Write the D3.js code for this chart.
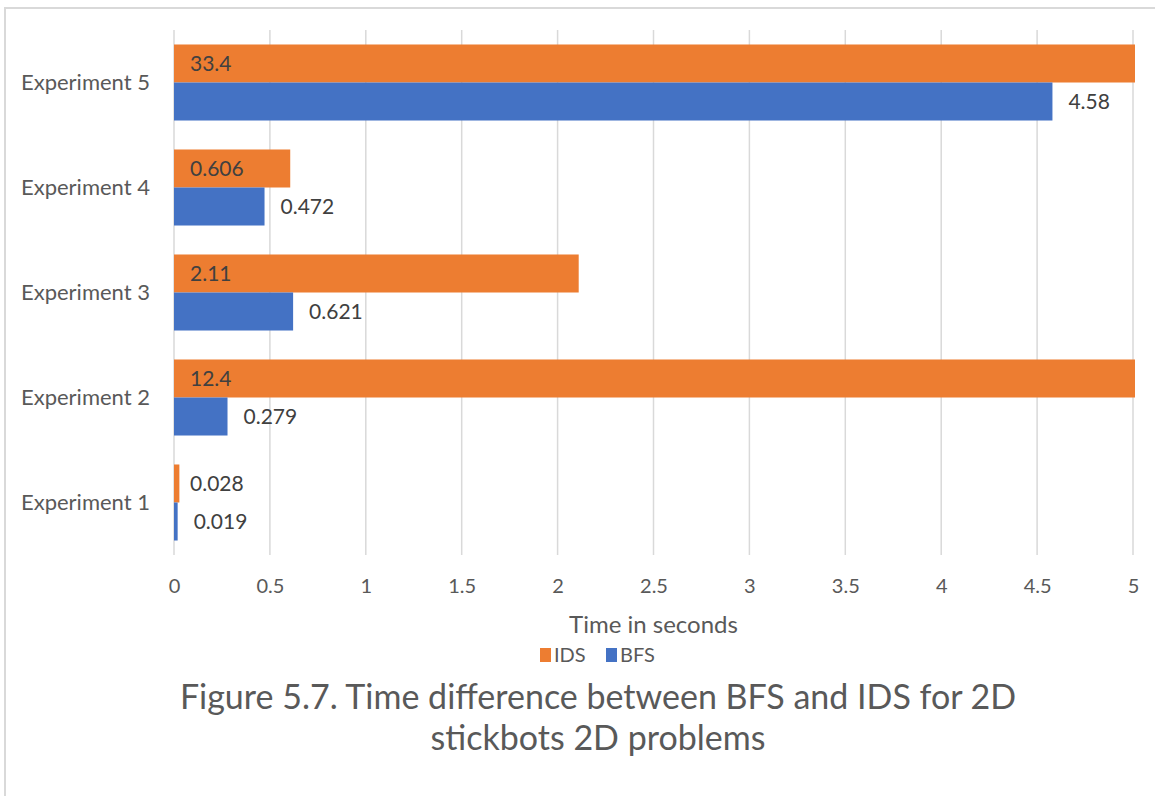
<!DOCTYPE html>
<html>
<head>
<meta charset="utf-8">
<script src="https://cdn.jsdelivr.net/npm/d3@7"></script>
<style>
  html, body { margin: 0; padding: 0; background: #fff; }
  svg { display: block; font-family: Lato, "Open Sans", sans-serif; }
</style>
</head>
<body>
<svg id="chart" width="1155" height="796"></svg>
<script>
const categories = ["Experiment 1", "Experiment 2", "Experiment 3", "Experiment 4", "Experiment 5"];
const seriesNames = ["IDS", "BFS"];
const idsValues = [0.028, 12.4, 2.11, 0.606, 33.4];
const bfsValues = [0.019, 0.279, 0.621, 0.472, 4.58];
const idsLabels = ["0.028", "12.4", "2.11", "0.606", "33.4"];
const bfsLabels = ["0.019", "0.279", "0.621", "0.472", "4.58"];
const xTicks = [0, 0.5, 1, 1.5, 2, 2.5, 3, 3.5, 4, 4.5, 5];
const colors = { IDS: "#ED7D31", BFS: "#4472C4" };
const xTitle = "Time in seconds";
const captionLines = ["Figure 5.7. Time difference between BFS and IDS for 2D", "stickbots 2D problems"];

const svg = d3.select("#chart");
const W = 1155, H = 796;
const plot = { left: 174, right: 1133, top: 30, bottom: 555 };
const FONT = "Lato, 'Open Sans', sans-serif";

// outer border (left/top)
svg.append("path")
  .attr("d", `M5,${H} L5,8 L${W},8`)
  .attr("fill", "none").attr("stroke", "#d9d9d9").attr("stroke-width", 2);

const x = d3.scaleLinear().domain([0, 5]).range([plot.left, plot.right]);
// categories from bottom (Experiment 1) to top (Experiment 5)
const y = d3.scaleBand().domain(categories.slice().reverse())
  .range([plot.top, plot.bottom]).paddingInner(0.276).paddingOuter(0.138);
const ySub = d3.scaleBand().domain(seriesNames).range([0, y.bandwidth()]);

// gridlines
svg.append("g").selectAll("line").data(xTicks).join("line")
  .attr("x1", d => x(d)).attr("x2", d => x(d))
  .attr("y1", plot.top).attr("y2", plot.bottom)
  .attr("stroke", "#d9d9d9").attr("stroke-width", 1.5);

// x axis tick labels
const xAxis = d3.axisBottom(x).tickValues(xTicks).tickSize(0).tickPadding(0)
  .tickFormat(d3.format("~g"));
const gx = svg.append("g").attr("transform", `translate(0,${plot.bottom + 38})`).call(xAxis);
gx.select(".domain").remove();
gx.selectAll("text").attr("font-size", 20).attr("fill", "#595959")
  .attr("font-family", FONT).attr("dy", 0);

// y axis category labels
const yAxis = d3.axisLeft(y).tickSize(0).tickPadding(0);
const gy = svg.append("g").attr("transform", `translate(150,0)`).call(yAxis);
gy.select(".domain").remove();
gy.selectAll("text").attr("font-size", 22).attr("fill", "#595959")
  .attr("font-family", FONT);

const data = categories.map((c, i) => ({
  cat: c,
  vals: [
    { s: "IDS", v: idsValues[i], label: idsLabels[i] },
    { s: "BFS", v: bfsValues[i], label: bfsLabels[i] }
  ]
}));

const clipMax = x.domain()[1];
const groups = svg.append("g").selectAll("g").data(data).join("g")
  .attr("transform", d => `translate(0,${y(d.cat)})`);

groups.selectAll("rect").data(d => d.vals).join("rect")
  .attr("x", x(0))
  .attr("y", d => ySub(d.s))
  .attr("width", d => x(Math.min(d.v, clipMax)) - x(0) + (d.v > clipMax ? 2 : 0))
  .attr("height", ySub.bandwidth())
  .attr("fill", d => colors[d.s]);

groups.selectAll("text").data(d => d.vals).join("text")
  .attr("x", d => d.s === "IDS" ? x(0) + 16 : x(Math.min(d.v, clipMax)) + 16)
  .attr("y", d => ySub(d.s) + ySub.bandwidth() / 2)
  .attr("dy", "0.35em")
  .attr("font-size", 21)
  .attr("fill", "#404040")
  .text(d => d.label);

// axis title
svg.append("text").attr("x", (plot.left + plot.right) / 2).attr("y", 633)
  .attr("text-anchor", "middle").attr("font-size", 24).attr("fill", "#595959")
  .text(xTitle);

// legend
const legend = svg.append("g").attr("transform", "translate(540,655)");
const legendItems = legend.selectAll("g").data(seriesNames).join("g")
  .attr("transform", (d, i) => `translate(${i * 66},0)`);
legendItems.append("rect").attr("x", 0).attr("y", -7).attr("width", 11).attr("height", 14)
  .attr("fill", d => colors[d]);
legendItems.append("text").attr("x", 14).attr("y", 0).attr("dy", "0.35em")
  .attr("font-size", 20).attr("fill", "#595959").text(d => d);

// caption
svg.append("g").selectAll("text").data(captionLines).join("text")
  .attr("x", 598).attr("y", (d, i) => 709 + i * 41)
  .attr("text-anchor", "middle").attr("font-size", 34).attr("fill", "#595959")
  .text(d => d);
</script>
</body>
</html>
